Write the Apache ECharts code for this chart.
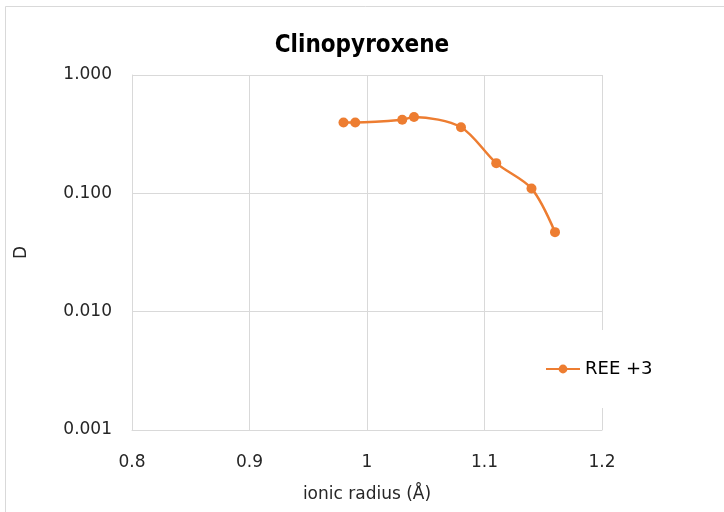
<!DOCTYPE html>
<html>
<head>
<meta charset="utf-8">
<script src="https://cdn.jsdelivr.net/npm/echarts@6/dist/echarts.min.js"></script>
<style>
html,body{margin:0;padding:0;background:#fff;}
#c{width:724px;height:512px;}
</style>
</head>
<body>
<div id="c"></div>
<script>
const ionicRadius = [0.98, 0.99, 1.03, 1.04, 1.08, 1.11, 1.14, 1.16];
const dValues = [0.397, 0.397, 0.419, 0.441, 0.362, 0.180, 0.110, 0.047];
const seriesName = 'REE +3';
const xTicks = [0.8, 0.9, 1.0, 1.1, 1.2];
const yTicks = [0.001, 0.010, 0.100, 1.000];

const font = '"DejaVu Sans", Verdana, sans-serif';
const titleFont = '"DejaVu Sans Condensed", "DejaVu Sans", sans-serif';
const chart = echarts.init(document.getElementById('c'));
chart.setOption({
  animation: false,
  backgroundColor: '#fff',
  graphic: [{
    type: 'rect', shape: {x: 5.5, y: 6.5, width: 740, height: 520},
    style: {fill: 'none', stroke: '#d9d9d9', lineWidth: 1}, z: -1
  }],
  title: {
    text: 'Clinopyroxene', left: 'center', top: 29,
    textStyle: {fontFamily: titleFont, fontWeight: 'bold', fontSize: 24, color: '#000'}
  },
  grid: {left: 132, right: 122, top: 75, bottom: 82},
  legend: {
    data: [seriesName], orient: 'vertical', left: 543, top: 330,
    backgroundColor: '#fff', padding: [30, 4, 30, 2],
    itemWidth: 34, itemHeight: 11, itemGap: 6,
    textStyle: {fontFamily: font, fontSize: 18, color: '#000'}
  },
  xAxis: {
    type: 'value', min: xTicks[0], max: xTicks[xTicks.length - 1], interval: 0.1,
    name: 'ionic radius (Å)', nameLocation: 'middle', nameGap: 56,
    nameTextStyle: {fontFamily: font, fontSize: 17, color: '#262626'},
    axisLine: {show: true, lineStyle: {color: '#d9d9d9'}},
    axisTick: {show: false},
    splitLine: {show: true, lineStyle: {color: '#d9d9d9', width: 1}},
    axisLabel: {fontFamily: font, fontSize: 17, color: '#262626', margin: 24,
      formatter: v => String(parseFloat(v.toFixed(1)))}
  },
  yAxis: {
    type: 'log', logBase: 10, min: yTicks[0], max: yTicks[yTicks.length - 1],
    name: 'D', nameLocation: 'middle', nameGap: 102, nameRotate: 90,
    nameTextStyle: {fontFamily: font, fontSize: 17, color: '#262626'},
    axisLine: {show: true, lineStyle: {color: '#d9d9d9'}},
    axisTick: {show: false},
    splitLine: {show: true, lineStyle: {color: '#d9d9d9', width: 1}},
    axisLabel: {fontFamily: font, fontSize: 17, color: '#262626', margin: 20,
      formatter: v => Number(v).toFixed(3)}
  },
  series: [{
    name: seriesName, type: 'line', smooth: 0.3,
    data: ionicRadius.map((x, i) => [x, dValues[i]]),
    symbol: 'circle', symbolSize: 10,
    itemStyle: {color: '#ed7d31'},
    lineStyle: {color: '#ed7d31', width: 2.5}
  }]
});
</script>
</body>
</html>
